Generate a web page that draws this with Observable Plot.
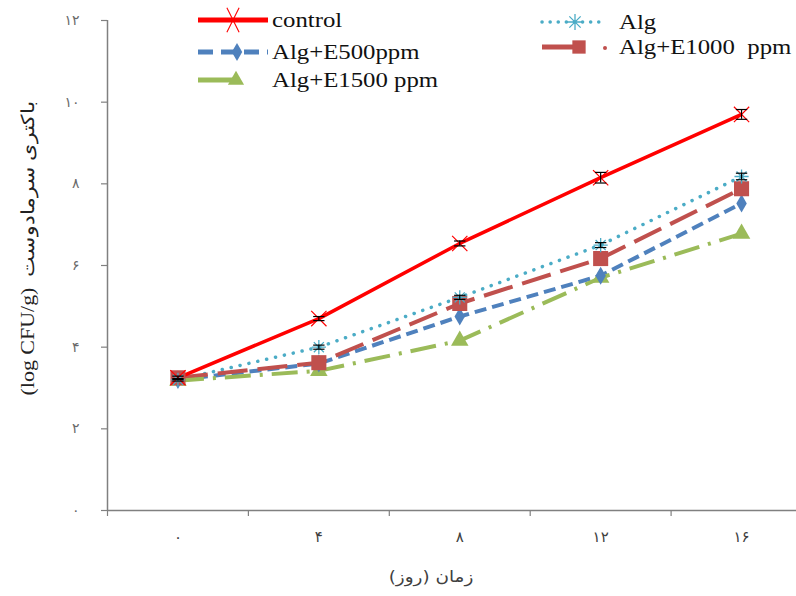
<!DOCTYPE html>
<html>
<head>
<meta charset="utf-8">
<script src="https://cdn.jsdelivr.net/npm/d3@7"></script>
<script src="https://cdn.jsdelivr.net/npm/@observablehq/plot@0.6"></script>
<style>
  html, body { margin: 0; padding: 0; background: #fff; }
  #chart { width: 796px; height: 596px; }
</style>
</head>
<body>
<div id="chart"></div>
<script>
// ---- data ----
const days = [0, 4, 8, 12, 16];
const dayLabels = ["۰", "۴", "۸", "۱۲", "۱۶"];
const yTicks = [0, 2, 4, 6, 8, 10, 12];
const yTickLabels = ["۰", "۲", "۴", "۶", "۸", "۱۰", "۱۲"];
const seriesNames = ["control", "Alg", "Alg+E500ppm", "Alg+E1000  ppm", "Alg+E1500 ppm"];
const control = [3.25, 4.70, 6.54, 8.15, 9.70];
const alg     = [3.20, 4.00, 5.22, 6.50, 8.18];
const e500    = [3.20, 3.60, 4.75, 5.75, 7.52];
const e1000   = [3.25, 3.62, 5.07, 6.17, 7.88];
const e1500   = [3.18, 3.42, 4.16, 5.70, 6.78];
const controlErr = [0.04, 0.05, 0.06, 0.13, 0.12];
const algErr     = [0.03, 0.05, 0.05, 0.06, 0.08];
const xTitle = "زمان (روز)";
const yTitle = "(log CFU/g)  باکتری سرمادوست";

const colors = ["#ff0000", "#4bacc6", "#4f81bd", "#c0504d", "#9bbb59"];
const dashes = [null, "0.1 9", "12 6", "30 10", "26 9 3 9"];
const lineW  = [3.5, 3.5, 4, 4, 4];
const values = [control, alg, e500, e1000, e1500];

const rows = [];
seriesNames.forEach((s, i) => days.forEach((d, j) => rows.push({series: s, day: d, value: values[i][j]})));
const errRows = [];
days.forEach((d, j) => {
  errRows.push({day: d, value: control[j], err: controlErr[j]});
  errRows.push({day: d, value: alg[j], err: algErr[j]});
});
const boundaries = [-2, 2, 6, 10, 14];

const capSymbol = {draw(ctx, size) { const w = Math.sqrt(size); ctx.moveTo(-w, 0); ctx.lineTo(w, 0); }};
const starSymbol = {draw(ctx, size) {
  const r = Math.sqrt(size);
  for (let k = 0; k < 4; k++) { const a = k * Math.PI / 4; ctx.moveTo(-r*Math.cos(a), -r*Math.sin(a)); ctx.lineTo(r*Math.cos(a), r*Math.sin(a)); }
}};
const tallX = {draw(ctx, size) { const r = Math.sqrt(size); ctx.moveTo(-0.5*r, -r); ctx.lineTo(0.5*r, r); ctx.moveTo(0.5*r, -r); ctx.lineTo(-0.5*r, r); }};

const sub = (i) => rows.filter(r => r.series === seriesNames[i]);
const lineMark = (i) => Plot.line(sub(i), {x: "day", y: "value", stroke: colors[i], strokeWidth: lineW[i],
  strokeDasharray: dashes[i], strokeLinecap: i === 1 ? "round" : "butt"});

const gray = "#808080";
const SERIF = "'Liberation Serif', 'Times New Roman', serif";
const plot = Plot.plot({
  width: 796, height: 596,
  marginLeft: 107, marginRight: 0, marginTop: 20, marginBottom: 86,
  x: {domain: [-2, 17.56]},
  y: {domain: [0, 12]},
  style: {fontFamily: SERIF, background: "#fff"},
  marks: [
    Plot.ruleY([0], {stroke: gray, strokeWidth: 1.5}),
    Plot.ruleX([-2], {stroke: gray, strokeWidth: 1.5}),
    Plot.axisX(boundaries, {tickSize: 6, tickFormat: () => "", stroke: gray, strokeWidth: 1.2, label: null}),
    Plot.axisX(days, {tickSize: 0, tickPadding: 21, tickFormat: (d) => dayLabels[days.indexOf(d)], fontSize: 15, fill: "#404040", label: null, fontFamily: "'DejaVu Sans', sans-serif"}),
    Plot.axisY(yTicks, {tickSize: 6, tickPadding: 22, tickFormat: (d) => yTickLabels[yTicks.indexOf(d)], fontSize: 14, fill: "#6a6a6a", stroke: gray, strokeWidth: 1.2, label: null, fontFamily: "'DejaVu Sans', sans-serif"}),
    lineMark(1), lineMark(2), lineMark(3), lineMark(4), lineMark(0),
    Plot.dot(sub(4), {x: "day", y: "value", symbol: "triangle", r: 6.5, fill: colors[4]}),
    Plot.dot(sub(2), {x: "day", y: "value", symbol: "diamond", r: 5.5, fill: colors[2]}),
    Plot.dot(sub(3), {x: "day", y: "value", symbol: "square", r: 8.5, fill: colors[3]}),
    Plot.dot(sub(1), {x: "day", y: "value", symbol: starSymbol, r: 4, stroke: colors[1], strokeWidth: 1.3}),
    Plot.dot(sub(0), {x: "day", y: "value", symbol: "times", r: 7, stroke: colors[0], strokeWidth: 1.2}),
    Plot.ruleX(errRows, {x: "day", y1: d => d.value - d.err, y2: d => d.value + d.err, stroke: "#000", strokeWidth: 1.2}),
    Plot.dot(errRows, {x: "day", y: d => d.value - d.err, symbol: capSymbol, r: 3.2, stroke: "#000", strokeWidth: 1.2}),
    Plot.dot(errRows, {x: "day", y: d => d.value + d.err, symbol: capSymbol, r: 3.2, stroke: "#000", strokeWidth: 1.2})
  ]
});
document.getElementById("chart").appendChild(plot);

// ---- titles & legend drawn on top of the svg ----
const svg = d3.select(plot);
svg.append("text").attr("transform", "translate(431,582) scale(1.15,1)").attr("text-anchor", "middle")
  .style("font-family", "'DejaVu Sans', sans-serif").style("font-size", "16px").attr("fill", "#404040")
  .attr("direction", "rtl").text(xTitle);
svg.append("text").attr("transform", "translate(34,248) rotate(-90) scale(1.22,1)").attr("text-anchor", "middle")
  .style("font-family", SERIF).style("font-size", "18px")
  .attr("fill", "#222").attr("direction", "ltr").text(yTitle);

const leg = svg.append("g").attr("fill", "#111").attr("text-anchor", "start");
const legItems = [
  {i: 0, x0: 198, x1: 268, mx: 233, y: 20, tx: 272},
  {i: 1, x0: 542, x1: 602, mx: 575, y: 22, tx: 619},
  {i: 2, x0: 198, x1: 268, mx: 237, y: 52, tx: 272},
  {i: 3, x0: 542, x1: 580, mx: 579, y: 47, tx: 619},
  {i: 4, x0: 198, x1: 236, mx: 236, y: 80, tx: 272}
];
const legDash = [null, "0.1 8", "15 8", null, null];
const sym = {2: d3.symbolDiamond, 3: d3.symbolSquare, 4: d3.symbolTriangle};
legItems.forEach(it => {
  const i = it.i;
  leg.append("line").attr("x1", it.x0).attr("x2", it.x1).attr("y1", it.y).attr("y2", it.y)
    .attr("stroke", colors[i]).attr("stroke-width", i === 1 ? 3.5 : 5).attr("stroke-linecap", i === 1 ? "round" : "butt")
    .attr("stroke-dasharray", legDash[i]);
  if (i === 3) leg.append("circle").attr("cx", 605).attr("cy", it.y + 1).attr("r", 2).attr("fill", colors[3]);
  if (i === 1) {
    leg.append("path").attr("transform", `translate(${it.mx},${it.y})`)
      .attr("d", () => { const p = d3.path(); starSymbol.draw(p, 64); return p.toString(); })
      .attr("stroke", colors[1]).attr("stroke-width", 1.3).attr("fill", "none");
  } else if (i === 0) {
    leg.append("path").attr("transform", `translate(${it.mx},${it.y})`)
      .attr("d", () => { const p = d3.path(); tallX.draw(p, 150); return p.toString(); })
      .attr("stroke", colors[0]).attr("stroke-width", 1.1).attr("fill", "none");
  } else {
    const r = i === 3 ? 7.5 : i === 2 ? 5.5 : 6;
    leg.append("path").attr("transform", `translate(${it.mx},${it.y})`)
      .attr("d", d3.symbol(sym[i], Math.PI * r * r)()).attr("fill", colors[i]);
  }
  leg.append("text").attr("transform", `translate(${it.tx},${it.y}) scale(1.24,1)`).attr("dy", "0.35em")
    .style("font-family", SERIF).style("font-size", "20px").text(seriesNames[i]);
});
</script>
</body>
</html>
